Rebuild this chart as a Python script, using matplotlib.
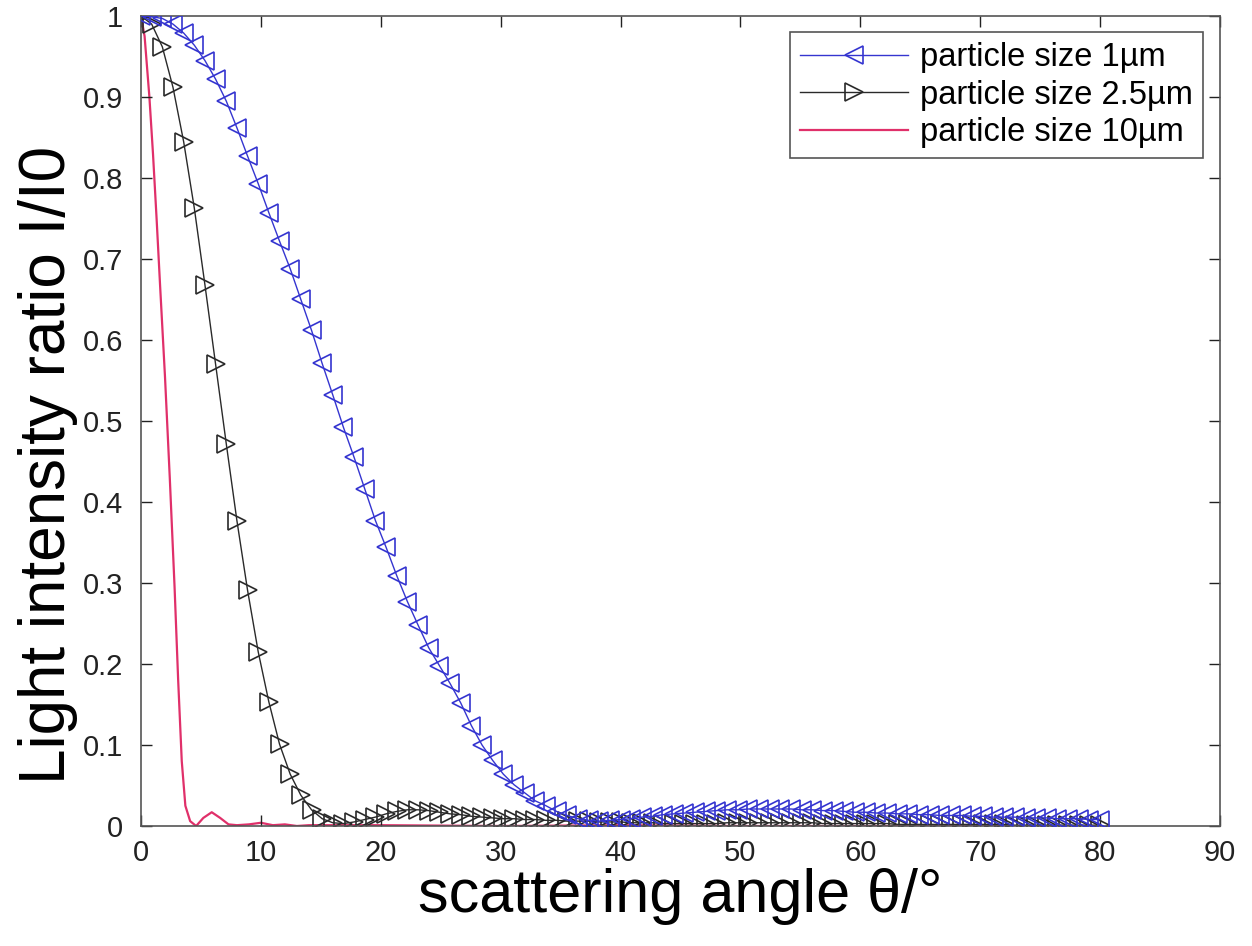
import numpy as np
import matplotlib
matplotlib.use("Agg")
import matplotlib.pyplot as plt

plt.rcParams['font.family'] = ['Liberation Sans', 'DejaVu Sans']

# scattering angle grid (degrees) for the 1 um and 2.5 um series: 91 samples, 0..80
n_pts = 91
angle_grid = np.linspace(0, 80, n_pts)

size_1um = [1.000, 0.999, 0.997, 0.990, 0.979, 0.964, 0.945, 0.922, 0.895, 0.862,
            0.827, 0.793, 0.757, 0.722, 0.688, 0.650, 0.612, 0.571, 0.532, 0.492,
            0.455, 0.416, 0.377, 0.344, 0.309, 0.277, 0.248, 0.220, 0.198, 0.176,
            0.152, 0.124, 0.100, 0.081, 0.064, 0.051, 0.041, 0.031, 0.025, 0.018,
            0.013, 0.009, 0.007, 0.006, 0.007, 0.008, 0.009, 0.011, 0.012, 0.014,
            0.015, 0.016, 0.017, 0.018, 0.019, 0.020, 0.020, 0.021, 0.021, 0.021,
            0.021, 0.021, 0.020, 0.020, 0.019, 0.019, 0.018, 0.017, 0.017, 0.016,
            0.016, 0.015, 0.015, 0.014, 0.014, 0.013, 0.013, 0.013, 0.012, 0.012,
            0.011, 0.011, 0.011, 0.010, 0.010, 0.010, 0.009, 0.009, 0.009, 0.008,
            0.008]

size_2p5um = [1.000, 0.990, 0.962, 0.912, 0.845, 0.763, 0.668, 0.570, 0.472, 0.377,
              0.291, 0.215, 0.153, 0.101, 0.064, 0.038, 0.020, 0.009, 0.004, 0.003,
              0.005, 0.008, 0.011, 0.015, 0.018, 0.020, 0.020, 0.019, 0.017, 0.015,
              0.014, 0.012, 0.011, 0.010, 0.009, 0.009, 0.008, 0.008, 0.007, 0.007,
              0.006, 0.006, 0.006, 0.005, 0.005, 0.005, 0.004, 0.004, 0.004, 0.003,
              0.003, 0.003, 0.003, 0.003, 0.003, 0.004, 0.004, 0.004, 0.004, 0.004,
              0.004, 0.004, 0.004, 0.004, 0.003, 0.003, 0.003, 0.003, 0.003, 0.003,
              0.003, 0.002, 0.002, 0.002, 0.002, 0.002, 0.002, 0.002, 0.002, 0.002,
              0.002, 0.002, 0.001, 0.001, 0.001, 0.001, 0.001, 0.001, 0.001, 0.001,
              0.001]

angle_10um = [0.0, 0.3, 0.7, 1.0, 1.3, 1.6, 2.0, 2.4, 2.8, 3.1, 3.4, 3.7, 4.1, 4.6,
              5.2, 5.9, 6.6, 7.3, 8.0, 9.0, 10.0, 11.0, 12.0, 13.0, 14.0,
              20.0, 30.0, 40.0, 50.0, 60.0, 70.0, 80.0]
size_10um = [1.000, 0.975, 0.900, 0.830, 0.750, 0.665, 0.555, 0.430, 0.295, 0.180,
             0.080, 0.025, 0.006, 0.000, 0.010, 0.017, 0.010, 0.002, 0.001, 0.002,
             0.004, 0.001, 0.002, 0.000, 0.001,
             0.001, 0.000, 0.001, 0.000, 0.000, 0.000, 0.000]

labels = ['particle size 1\u00b5m', 'particle size 2.5\u00b5m', 'particle size 10\u00b5m']

fig = plt.figure(figsize=(12.52, 9.46), dpi=100)
ax = fig.add_axes([141/1252, 1 - 826/946, (1220 - 141)/1252, (826 - 16)/946])

ax.plot(angle_grid, size_1um, color='#3535d0', lw=1.0, marker='<', markersize=13,
        markerfacecolor='none', markeredgecolor='#3535d0', markeredgewidth=1.2,
        label=labels[0], zorder=3)
ax.plot(angle_grid, size_2p5um, color='#2a2a2a', lw=1.0, marker='>', markersize=13,
        markerfacecolor='none', markeredgecolor='#2a2a2a', markeredgewidth=1.2,
        label=labels[1], zorder=2)
ax.plot(angle_10um, size_10um, color='#e0306a', lw=1.6, label=labels[2], zorder=1)

ax.set_xlim(0, 90)
ax.set_ylim(0, 1)
ax.set_xticks(np.arange(0, 91, 10))
ax.set_yticks(np.arange(0, 1.01, 0.1))
ax.set_yticklabels(['0', '0.1', '0.2', '0.3', '0.4', '0.5', '0.6', '0.7', '0.8', '0.9', '1'])
ax.tick_params(direction='in', length=8, width=1, top=True, right=True,
               labelsize=21, colors='#222222')
ax.tick_params(axis='y', pad=13)
ax.tick_params(axis='x', pad=9)
for s in ax.spines.values():
    s.set_color('#555555')
    s.set_linewidth(1.2)

ax.set_xlabel('scattering angle \u03b8/\u00b0', fontsize=44, labelpad=1)
ax.set_ylabel('Light intensity ratio I/I0', fontsize=46)
ax.yaxis.set_label_coords(-0.058, 0.446)

leg = ax.legend(loc='upper right', bbox_to_anchor=(0.984, 0.980), borderaxespad=0,
                fontsize=23.5, fancybox=False, framealpha=1, edgecolor='#555555',
                handlelength=3.3, handletextpad=0.37, labelspacing=0.2,
                borderpad=0.3, markerscale=1.0)
leg.get_frame().set_linewidth(1.2)

fig.savefig('out.png', dpi=100)
